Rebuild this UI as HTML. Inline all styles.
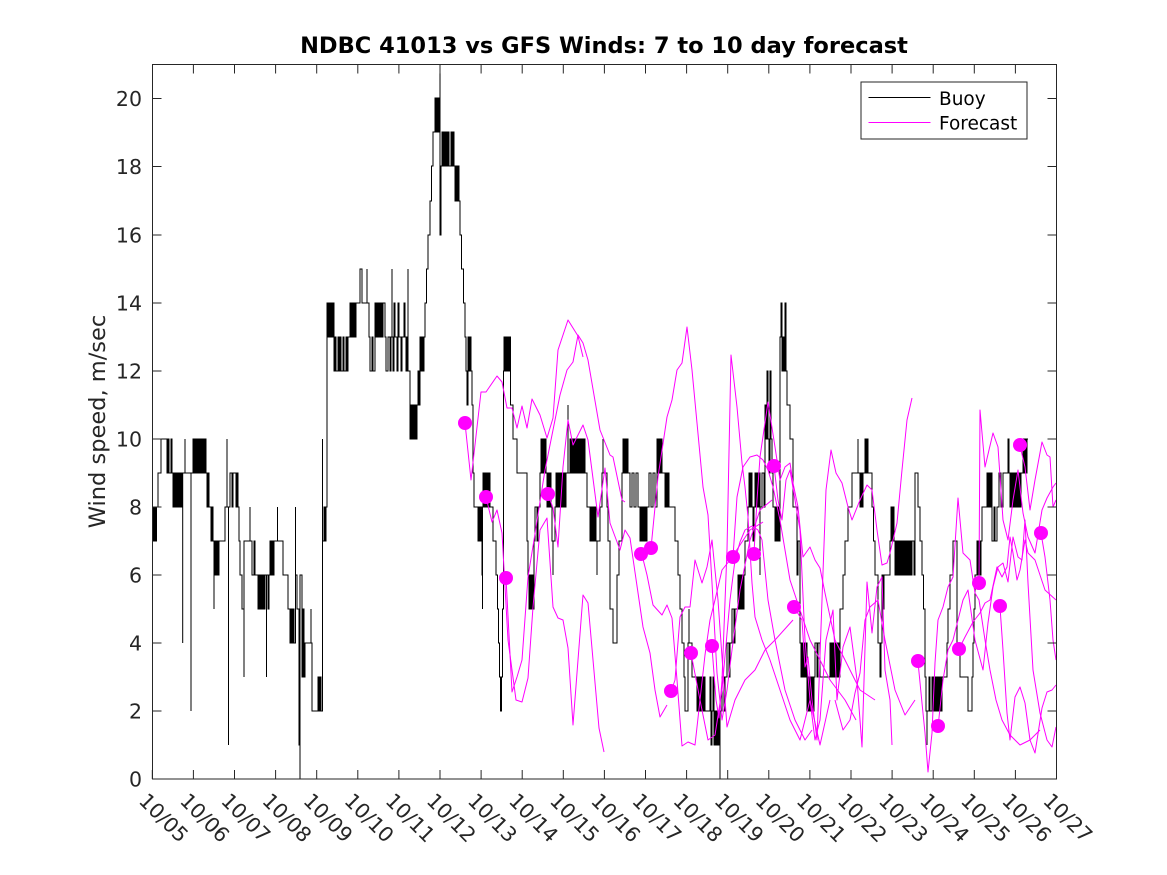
<!DOCTYPE html>
<html><head><meta charset="utf-8"><style>
html,body{margin:0;padding:0;background:#fff;}
svg{display:block;font-family:"DejaVu Sans","Liberation Sans",sans-serif;}
</style></head><body>
<svg width="1167" height="875" viewBox="0 0 1167 875" xmlns="http://www.w3.org/2000/svg">
<rect width="1167" height="875" fill="#fff"/>
<defs><clipPath id="ax"><rect x="152.5" y="64.5" width="904" height="714.5"/></clipPath></defs>
<g clip-path="url(#ax)">
<path fill="none" stroke="#000" stroke-width="1" d="M152.5,541 V507 H153.5 V541 H154.5 V507 H155.5 V541 H156.5 V507 H158 V473 H161 V439 H167 V473 H168 V439 H169 V473 H171 V439 H172 V473 H173 V507 H174 V473 H175 V507 H176 V473 H177 V507 H178 V473 H179 V507 H180 V473 H181 V507 H182 V473 H182.7 V643 V473 H185 V439 V473 H191 V711 V473 H193 V439 H194 V473 H195 V439 H196 V473 H197 V439 H198 V473 H199 V439 H200 V473 H201 V439 H202 V473 H203 V439 H204 V473 H205 V439 H206 V473 H207 V507 H208 V473 H209 V507 H211 V541 H212 V507 H213 V541 H214 V609 V575 H215 V541 H216 V575 H217 V541 H218 V575 H219 V541 H225 V507 H227 V439 V507 H228.5 V745 V507 H230 V473 H232 V507 H233 V473 H236 V507 H237 V473 H238 V507 H239 V541 H240 V575 H242 V609 H244 V677 V541 H250 V507 V541 H252 V575 H254 V541 H255 V575 H258 V609 H259 V575 H260 V609 H261 V575 H262 V609 H263 V575 H264 V609 H265 V575 H266.5 V677 V575 H268 V609 H269 V575 H270 V541 H271 V575 H272 V541 H273 V575 H274 V541 H277.5 V507 V541 H283 V575 H288 V609 H290 V643 H291 V609 H292 V643 H293 V609 H294 V643 H295.5 V507 V575 H297 V609 H299 V745 H300 V779 V575 H302 V677 H303 V609 H304 V677 H305 V643 H311 V609 V643 H312 V711 H318 V677 H319 V711 H320 V677 H321 V711 H322.5 V439 V541 H324 V507 H325 V541 H326 V507 H327 V371 V303 H328 V337 H329 V303 H330 V337 H331 V303 H332 V337 H333 V303 H334 V371 H335 V337 H336 V371 H338 V337 H339 V371 H340 V337 H341 V371 H343 V337 H344 V371 H346 V337 H347 V371 H348 V337 H350 V303 H351 V337 H352 V303 H353 V337 H354 V303 H355 V337 H356 V303 H360 V269 H362 V303 H367 V269 V303 H369 V337 H370 V371 H372 V337 H373 V371 H375 V303 H376 V337 H377 V303 H378 V337 H379 V303 H380 V337 H381 V303 H382 V337 H383 V303 H385 V337 H386 V371 H388 V337 H390 V371 H391 V337 H392 V269 V337 H393 V371 H394 V303 H395 V337 H397 V371 H398 V303 H399 V337 H401 V371 H402 V337 H404 V303 H405 V337 H406 V371 H407 V337 H408 V269 V371 H410 V439 H411 V405 H412 V439 H413 V405 H414 V439 H415 V405 H416 V439 H417 V405 H418 V371 H419 V405 H420 V337 H421 V371 H422 V337 H423 V371 H424 V337 H425 V303 H426.5 V269 H428 V235 H430 V201 H431.5 V166 H433 V132 H435 V98 H436 V132 H437 V98 H438 V132 H439 V98 H440 V64 V235 H441 V166 H442 V132 H443 V166 H444 V132 H445 V166 H446 V132 H447 V166 H448 V132 H449 V166 H451 V132 H452 V166 H453 V132 H454 V166 H455 V201 H456 V166 H457 V201 H458 V166 H459 V201 H460 V235 H461.5 V269 H463.5 V303 H465 V337 H466 V371 H467 V405 H468 V337 H469 V371 H470 V337 H471 V371 H472 V405 H473 V473 H474 V507 H478 V541 H479 V507 H480 V541 H481 V507 H482 V575 H482.5 V609 V507 H483 V473 H484 V507 H485 V473 H486 V507 H487 V473 H488 V507 H489 V473 H490 V507 H493 V541 H496 V575 H497.5 V609 H498.5 V643 H499.5 V677 H500.5 V711 H501.5 V677 H502.5 V609 H503.5 V371 H504 V337 H505 V371 H506 V337 H507 V371 H508 V337 H509 V371 H510 V337 H510.5 V405 H513 V439 H517 V473 H527 V541 H528 V575 H529 V609 H530 V575 H531 V609 H532 V575 H533 V609 H534 V541 H535 V507 H537 V541 H538 V507 H540 V473 H541 V439 H542 V473 H543 V439 H544 V473 H545 V439 H546 V473 H547 V507 H548 V473 H549 V507 H550 V473 H551 V507 H552 V541 H553 V575 V541 H555 V507 H556 V473 H557 V507 H558 V473 H559 V507 H560 V473 H561 V507 H562 V473 H563 V507 H564 V473 H565 V507 H566 V473 H568 V405 V473 H570 V439 H571 V473 H572 V439 H573 V473 H574 V439 H575 V473 H576 V439 H577 V473 H578 V439 H579 V473 H580 V439 H581 V473 H582 V439 H583 V473 H584 V439 H585 V473 H587 V507 H590 V541 H591 V507 H592 V541 H593 V507 H594 V541 H595 V507 H596 V541 H597 V575 V541 H600 V507 H602 V473 H603 V439 V473 H607 V507 H608 V541 H610 V609 H613 V643 H617 V575 H619 V541 H622 V473 H623 V439 H624 V473 H625 V439 H626 V473 H627 V439 H628 V473 H630 V507 H632 V473 H634 V507 H636 V473 H638 V507 H640 V541 H641 V507 H642 V541 H643 V507 H644 V541 H645 V507 H646 V541 H647 V507 H649 V473 H651 V507 H653 V473 H655 V507 H657 V439 H658 V473 H659 V439 H660 V473 H661 V439 H662 V473 H665 V507 H666 V473 H667 V507 H668 V473 H669 V507 H675 V541 H678 V575 H680 V609 H682 V643 H684 V677 H685 V711 H688 V643 H689 V609 V643 H692 V677 H697 V711 H698 V677 H699 V711 H700 V677 H701 V711 H702 V677 H703 V711 H704 V677 H705 V711 H710 V677 H711 V745 H712 V711 H713 V677 H714 V745 H715 V711 H716 V745 H717 V711 H718 V745 H719 V711 H720 V779 V711 H722 V677 H724 V711 H725 V677 H727 V643 H729 V677 H730 V643 H732 V609 H734 V643 H735 V609 H738 V575 H739 V609 H740 V575 H741 V609 H742 V575 H743 V609 H744 V575 H745 V541 H748 V507 H749 V473 H750 V507 H751 V473 H752 V507 H753 V541 H754 V507 H755 V473 H756 V507 H757 V473 H758 V507 H759 V473 H760 V575 V507 H762 V473 H764 V507 H765 V405 H766 V439 H767 V371 H768 V439 H769 V473 H770 V371 H771 V439 H772 V473 H773 V507 H775 V541 H776 V507 H777 V541 H778 V507 H779 V541 H780 V337 H781 V303 H782 V371 H783 V337 H784 V371 H785 V303 H786 V371 H787 V405 H790 V439 H793 V507 H797 V575 H798 V541 H800 V643 H801 V677 H802 V643 H803 V677 H804 V643 H805 V677 H806 V643 H807 V711 H808 V677 H809 V711 H810 V677 H811 V711 H812 V677 H813 V711 H814 V677 H815 V643 H817 V677 H818 V643 H820 V677 H830 V643 H831 V677 H832 V643 H833 V677 H834 V643 H835 V677 H836 V643 H837 V677 H838 V643 H839 V677 H840 V609 H843 V575 H845 V541 H848 V507 H852 V473 H858 V439 V473 H860 V507 H861 V473 H862 V507 H863 V473 H865 V439 H866 V473 H867 V439 H868 V473 H872 V507 H873.5 V541 H875 V575 H878 V643 H880 V677 H881 V643 H882 V575 H883 V609 H884 V575 H890 V541 H891 V507 H892 V541 H893 V507 H894 V541 H895 V575 H896 V541 H897 V575 H898 V541 H899 V575 H900 V541 H901 V575 H902 V541 H903 V575 H904 V541 H905 V575 H906 V541 H907 V575 H908 V541 H909 V575 H910 V541 H911 V575 H912 V541 H914 V575 H915 V473 H918 V507 H920 V541 H922 V575 H923.5 V609 H925 V677 H926 V711 H927 V745 V711 H929 V677 H930 V711 H932 V677 H933 V711 H934 V677 H935 V711 H936 V677 H937 V711 H938 V677 H939 V711 H940 V677 H941 V711 H942 V677 H947 V643 H948 V609 H950 V575 H953 V541 H957 V643 H960 V677 H968 V711 H972 V677 H973 V643 H974 V609 H975 V575 H977 V541 H978 V575 H979 V541 H980 V575 H981 V541 H982 V507 H987 V473 H988 V507 H989 V473 H990 V507 H991 V473 H992 V541 H994 V507 H995 V541 H997 V507 H999 V473 H1001 V507 H1003 V473 H1008 V439 H1009 V473 H1010 V507 H1011 V473 H1012 V507 H1013 V473 H1014 V507 H1015 V473 H1016 V507 H1017 V473 H1018 V507 H1019 V473 H1020 V507 H1021 V473 H1023 V439 H1024 V473 H1025 V439 H1026 V473 H1027 V439 H1028"/>
<g fill="none" stroke="#ff00ff" stroke-width="1" stroke-linejoin="round">
<polyline points="465,423 471,480 481,392 486,392 497,376 502,382 507,408 512,408 517,428 522,406 527,428 532,399 540,415 547,438 553,418 558,350 568,320 578,336 583,357"/>
<polyline points="486,497 492,522 497,510 502,533 508,640 516,700 522,702 528,678 533,607 540,530 547,518 553,607 558,618 563,620 568,648 573,725 583,595 588,603 599,728 604,752"/>
<polyline points="506,578 512,692 517,677 522,660 528,577 534,540 545,470 553,430 560,395 567,370 573,362 578,335 583,343 588,360 600,430 610,455 613,457 622,500 625,502"/>
<polyline points="548,494 553,508 558,547 563,467 568,420 573,445 583,425 588,440 598,517 605,468 610,523 620,550 625,530 630,538 643,627 650,653 655,690 660,717 667,705"/>
<polyline points="642,555 647,575 653,605 662,615 667,605 672,618 677,680 682,746 688,742 695,745 700,700 705,655 710,620 715,600 722,570 730,560 740,545 750,530 763,522"/>
<polyline points="651,548 658,477 667,417 672,400 677,370 682,363 687,327 692,370 697,423 703,487 708,515 712,583 717,673 722,720 727,690 732,650 740,590 750,540 760,510 772,500"/>
<polyline points="671,692 675,680 680,617 685,607 690,607 695,560 702,583 707,567 712,540 718,600 722,657 727,727 735,700 745,680 755,670 765,650 775,640 793,620"/>
<polyline points="691,653 700,700 708,740 715,735 722,690 730,600 735,560 740,542 745,530 752,526 758,530 762,540 768,600 775,640 785,690 795,720 805,740 812,730"/>
<polyline points="712,647 716,700 719,718 722,680 727,550 731,355 737,407 742,463 745,487 748,517 752,583 755,617 762,640 770,660 780,690 790,720 800,740 810,700 820,745 830,700"/>
<polyline points="733,557 737,497 743,467 750,457 757,455 763,460 768,470 773,487 780,520 790,580 800,610 810,640 820,660 830,680 845,700 856,720"/>
<polyline points="754,553 757,500 760,457 768,402 775,447 780,480 785,467 790,463 793,483 798,507 803,557 810,547 815,560 820,568 825,593 835,640 845,660 860,690 875,700"/>
<polyline points="774,466 778,500 782,520 786,480 790,470 795,500 800,530 805,640 810,700 815,740 820,720 826,640 833,610 837,700 843,647 850,627 857,680 862,747 867,582 872,633 877,587 882,577 885,670 890,700 892,745"/>
<polyline points="794,607 802,620 805,667 808,657 812,700 817,740 822,600 826,490 831,450 836,473 842,483 848,507 852,520 860,500 867,485 872,490 877,530 882,565 887,563 890,553 897,523 902,470 907,420 912,398"/>
<polyline points="835,700 843,730 850,720 855,693 860,673 865,620 870,607 878,600 885,640 895,690 905,715 915,700"/>
<polyline points="918,662 922,703 925,733 928,772 932,733 935,663 938,620 943,607 948,587 953,577 958,498 963,553 970,560 975,593 979,600 985,640 990,670 996,700 1002,720 1010,735 1020,745 1030,740 1040,730"/>
<polyline points="938,727 943,680 948,650 953,640 958,620 963,600 968,590 975,640 983,670 988,623 993,587 998,567 1003,563 1008,582 1013,537 1018,557 1022,560 1025,520 1028,583 1033,670 1040,713 1047,740 1052,747 1056,727"/>
<polyline points="959,649 965,637 973,622 980,613 985,603 990,600 997,567 1002,577 1007,567 1010,537 1013,553 1017,580 1020,570 1025,540 1028,553 1035,560 1045,590 1056,600"/>
<polyline points="979,584 980,410 985,467 993,433 998,447 1003,520 1008,540 1013,500 1018,470 1023,513 1028,537 1035,553 1042,510 1047,498 1053,487 1056,483"/>
<polyline points="1000,607 1003,650 1007,713 1010,740 1015,697 1020,687 1025,703 1030,740 1035,753 1042,708 1047,692 1052,690 1056,685"/>
<polyline points="1020,446 1025,467 1030,510 1035,480 1042,442 1047,455 1050,457 1053,507 1056,500"/>
<polyline points="1041,533 1045,557 1050,600 1053,640 1056,660"/>
</g>
<g fill="#ff00ff">
<circle cx="465" cy="423" r="7"/><circle cx="486" cy="497" r="7"/><circle cx="506" cy="578" r="7"/><circle cx="548" cy="494" r="7"/>
<circle cx="641" cy="554" r="7"/><circle cx="651" cy="548" r="7"/><circle cx="671" cy="691" r="7"/><circle cx="691" cy="653" r="7"/>
<circle cx="712" cy="646" r="7"/><circle cx="733" cy="557" r="7"/><circle cx="754" cy="554" r="7"/><circle cx="774" cy="466" r="7"/>
<circle cx="794" cy="607" r="7"/><circle cx="918" cy="661" r="7"/><circle cx="938" cy="726" r="7"/><circle cx="959" cy="649" r="7"/>
<circle cx="979" cy="583" r="7"/><circle cx="1000" cy="606" r="7"/><circle cx="1020" cy="445" r="7"/><circle cx="1041" cy="533" r="7"/>
</g>
</g>
<!-- axes box -->
<rect x="152.5" y="64.5" width="904" height="714.5" fill="none" stroke="#262626" stroke-width="1"/>
<g stroke="#262626" stroke-width="1">
<path d="M152.3,779V770M193.4,779V770M234.5,779V770M275.6,779V770M316.7,779V770M357.8,779V770M398.9,779V770M440,779V770M481.1,779V770M522.2,779V770M563.3,779V770M604.4,779V770M645.5,779V770M686.6,779V770M727.7,779V770M768.8,779V770M809.9,779V770M851,779V770M892.1,779V770M933.2,779V770M974.3,779V770M1015.4,779V770"/>
<path d="M193.4,64.5V73.5M234.5,64.5V73.5M275.6,64.5V73.5M316.7,64.5V73.5M357.8,64.5V73.5M398.9,64.5V73.5M440,64.5V73.5M481.1,64.5V73.5M522.2,64.5V73.5M563.3,64.5V73.5M604.4,64.5V73.5M645.5,64.5V73.5M686.6,64.5V73.5M727.7,64.5V73.5M768.8,64.5V73.5M809.9,64.5V73.5M851,64.5V73.5M892.1,64.5V73.5M933.2,64.5V73.5M974.3,64.5V73.5M1015.4,64.5V73.5"/>
<path d="M152.5,711H161.5M152.5,643H161.5M152.5,575H161.5M152.5,507H161.5M152.5,439H161.5M152.5,371H161.5M152.5,303H161.5M152.5,235H161.5M152.5,166.5H161.5M152.5,98.5H161.5"/>
<path d="M1056.5,711H1047.5M1056.5,643H1047.5M1056.5,575H1047.5M1056.5,507H1047.5M1056.5,439H1047.5M1056.5,371H1047.5M1056.5,303H1047.5M1056.5,235H1047.5M1056.5,166.5H1047.5M1056.5,98.5H1047.5"/>
</g>
<g fill="#262626" font-size="20.5" text-anchor="end">
<text x="142" y="786.5">0</text><text x="142" y="718.5">2</text><text x="142" y="650.5">4</text><text x="142" y="582.5">6</text>
<text x="142" y="514.5">8</text><text x="142" y="446.5">10</text><text x="142" y="378.5">12</text><text x="142" y="310.5">14</text>
<text x="142" y="242.5">16</text><text x="142" y="174">18</text><text x="142" y="106">20</text>
</g>
<g fill="#262626" font-size="20.5">
<text transform="translate(137.8,802) rotate(45)">10/05</text>
<text transform="translate(178.9,802) rotate(45)">10/06</text>
<text transform="translate(220,802) rotate(45)">10/07</text>
<text transform="translate(261.1,802) rotate(45)">10/08</text>
<text transform="translate(302.2,802) rotate(45)">10/09</text>
<text transform="translate(343.3,802) rotate(45)">10/10</text>
<text transform="translate(384.4,802) rotate(45)">10/11</text>
<text transform="translate(425.5,802) rotate(45)">10/12</text>
<text transform="translate(466.6,802) rotate(45)">10/13</text>
<text transform="translate(507.7,802) rotate(45)">10/14</text>
<text transform="translate(548.8,802) rotate(45)">10/15</text>
<text transform="translate(589.9,802) rotate(45)">10/16</text>
<text transform="translate(631,802) rotate(45)">10/17</text>
<text transform="translate(672.1,802) rotate(45)">10/18</text>
<text transform="translate(713.2,802) rotate(45)">10/19</text>
<text transform="translate(754.3,802) rotate(45)">10/20</text>
<text transform="translate(795.4,802) rotate(45)">10/21</text>
<text transform="translate(836.5,802) rotate(45)">10/22</text>
<text transform="translate(877.6,802) rotate(45)">10/23</text>
<text transform="translate(918.7,802) rotate(45)">10/24</text>
<text transform="translate(959.8,802) rotate(45)">10/25</text>
<text transform="translate(1000.9,802) rotate(45)">10/26</text>
<text transform="translate(1042,802) rotate(45)">10/27</text>
</g>
<text x="604" y="53" text-anchor="middle" font-size="22.5" font-weight="bold" fill="#000">NDBC 41013 vs GFS Winds: 7 to 10 day forecast</text>
<text transform="translate(105,421.5) rotate(-90)" text-anchor="middle" font-size="22.5" fill="#262626">Wind speed, m/sec</text>
<!-- legend -->
<rect x="861" y="82" width="166" height="57" fill="#fff" stroke="#262626" stroke-width="1"/>
<line x1="868.5" y1="97.5" x2="930.5" y2="97.5" stroke="#000" stroke-width="1"/>
<line x1="868.5" y1="122.5" x2="930.5" y2="122.5" stroke="#ff00ff" stroke-width="1"/>
<text x="939" y="105" font-size="18.5" fill="#000">Buoy</text>
<text x="939" y="129.5" font-size="18.5" fill="#000">Forecast</text>
</svg>
</body></html>
